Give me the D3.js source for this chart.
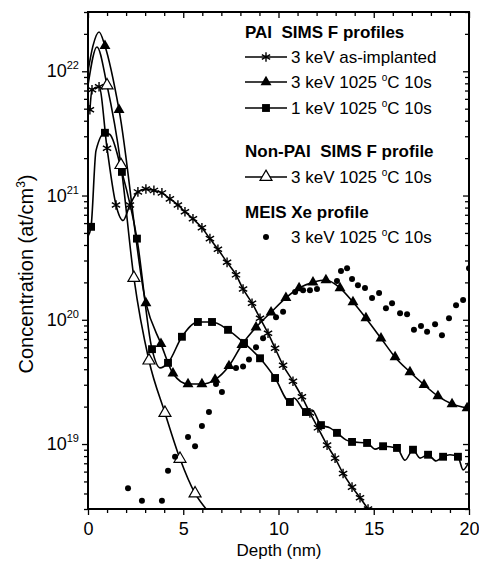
<!DOCTYPE html>
<html>
<head>
<meta charset="utf-8">
<script src="https://cdn.jsdelivr.net/npm/d3@7"></script>
<style>
  body { margin: 0; background: #fff; }
  svg { display: block; font-family: "Liberation Sans", Arial, sans-serif; }
</style>
</head>
<body>
<div id="chart"></div>
<script>
// axis values
const depthTicks = [0, 5, 10, 15, 20];
const concTicks = [1e19, 1e20, 1e21, 1e22];

// PAI SIMS F, 3 keV as-implanted (asterisks)
const asImplantedMarks = [
  [0.10, 4.9e21], [0.21, 7.1e21], [0.58, 7.5e21], [1.00, 2.4e21], [1.47, 8.4e20],
  [2.20, 8.4e20], [2.62, 1.07e21], [3.04, 1.13e21], [3.46, 1.1e21], [3.88, 1.05e21],
  [4.30, 9.4e20], [4.72, 8.4e20], [5.09, 7.4e20], [5.51, 6.5e20], [5.98, 5.5e20],
  [6.40, 4.5e20], [6.82, 3.7e20], [7.30, 2.9e20], [7.77, 2.3e20], [8.14, 1.77e20],
  [8.61, 1.36e20], [9.03, 1.03e20], [9.45, 7.8e19], [9.82, 5.9e19], [10.24, 4.3e19],
  [10.76, 3.2e19], [11.23, 2.4e19], [11.65, 1.78e19], [12.07, 1.35e19], [12.55, 9.8e18],
  [12.97, 7.7e18], [13.39, 5.8e18], [13.86, 4.5e18], [14.28, 3.7e18], [14.70, 3.0e18]
];
const asImplantedExtra = [[1.84, 6.3e20]];

// PAI SIMS F, 3 keV 1025 C 10s (filled triangles)
const pai3Marks = [
  [0.89, 1.6e22], [1.63, 4.9e21], [3.04, 1.36e20], [3.83, 6.4e19], [4.46, 3.7e19],
  [5.25, 3.04e19], [5.98, 3.04e19], [6.67, 3.3e19], [7.40, 4.25e19], [8.08, 6.3e19],
  [8.82, 8.7e19], [9.61, 1.15e20], [10.39, 1.5e20], [11.08, 1.8e20], [11.81, 2.0e20],
  [12.49, 2.09e20], [13.23, 1.8e20], [13.91, 1.39e20], [14.59, 1.03e20], [15.38, 7.1e19],
  [16.12, 5.0e19], [16.90, 3.8e19], [17.64, 3.0e19], [18.37, 2.43e19], [19.11, 2.1e19],
  [19.90, 1.95e19]
];
const pai3Extra = [[0.0, 1.0e22], [0.26, 1.6e22], [0.58, 2.07e22]];

// PAI SIMS F, 1 keV 1025 C 10s (filled squares)
const pai1Marks = [
  [0.16, 5.6e20], [0.89, 3.2e21], [1.78, 1.55e21], [2.57, 4.5e20], [3.36, 5.8e19],
  [4.20, 4.5e19], [4.93, 7.3e19], [5.77, 9.6e19], [6.51, 9.6e19], [7.35, 8.3e19],
  [8.19, 6.5e19], [9.03, 4.9e19], [9.82, 3.4e19], [10.60, 2.18e19], [11.44, 1.81e19],
  [12.23, 1.42e19], [13.07, 1.23e19], [13.86, 1.04e19], [14.65, 1.02e19], [15.49, 9.6e18],
  [16.22, 9.3e18], [17.06, 9.0e18], [17.85, 8.2e18], [18.64, 7.9e18], [19.42, 7.9e18]
];
const pai1Extra = [
  [0.0, 4.7e20], [0.42, 2.3e21], [1.15, 3.1e21], [3.78, 4.1e19], [10.81, 2.35e19],
  [11.76, 1.88e19], [12.70, 1.35e19], [13.54, 1.08e19], [15.07, 9.1e18], [16.64, 7.4e18],
  [17.43, 7.7e18], [18.27, 7.3e18], [19.00, 8.2e18], [19.69, 6.2e18], [20.0, 7.2e18]
];

// Non-PAI SIMS F, 3 keV 1025 C 10s (open triangles)
const nonPaiMarks = [
  [1.00, 7.7e21], [1.73, 1.76e21], [2.41, 2.17e20], [3.20, 4.7e19], [4.04, 1.78e19],
  [4.83, 7.6e18], [5.62, 4.0e18]
];
const nonPaiExtra = [[0.0, 7.7e21], [0.47, 1.57e22], [6.2, 3.0e18]];

// MEIS Xe profile, 3 keV 1025 C 10s (dots)
const meisXe = [
  [2.10, 4.4e18], [2.83, 3.5e18], [3.88, 3.5e18], [4.20, 6.1e18], [4.57, 7.9e18],
  [5.25, 1.14e19], [5.62, 9.6e18], [5.98, 1.40e19], [6.35, 1.81e19], [6.72, 3.04e19],
  [7.03, 2.62e19], [7.40, 4.25e19], [7.77, 4.1e19], [8.14, 4.2e19], [8.45, 4.8e19],
  [8.82, 6.0e19], [9.19, 7.1e19], [9.87, 1.05e20], [10.24, 1.16e20], [10.87, 1.67e20],
  [11.29, 1.73e20], [11.65, 1.73e20], [12.02, 1.77e20], [13.07, 2.05e20], [13.28, 2.47e20],
  [13.60, 2.6e20], [13.86, 2.13e20], [14.17, 1.9e20], [14.54, 1.8e20], [14.91, 1.5e20],
  [15.28, 1.64e20], [15.64, 1.24e20], [15.96, 1.36e20], [16.38, 1.13e20], [16.75, 1.11e20],
  [17.11, 8.3e19], [17.48, 8.9e19], [17.80, 8.0e19], [18.22, 9.2e19], [18.58, 7.5e19],
  [18.95, 1.03e20], [19.32, 1.31e20], [19.69, 1.44e20], [20.0, 2.6e20]
];

const width = 479;
const height = 562;
const plotL = 88, plotR = 469, plotT = 12, plotB = 509;

const x = d3.scaleLinear().domain([0, 20]).range([plotL, plotR]);
const y = d3.scaleLog().domain([3e18, 3e22]).range([plotB, plotT]);

const svg = d3.select("#chart")
  .append("svg")
  .attr("width", width)
  .attr("height", height);

svg.append("rect").attr("width", width).attr("height", height).attr("fill", "#fff");

svg.append("defs").append("clipPath").attr("id", "plot")
  .append("rect")
  .attr("x", plotL).attr("y", plotT)
  .attr("width", plotR - plotL).attr("height", plotB - plotT);

// ticks
const minorX = x.ticks(20).filter(d => !depthTicks.includes(d));
const minorY = y.ticks().filter(d => !concTicks.includes(d));

const drawAxis = (axis, tx, ty) => {
  const g = svg.append("g").attr("transform", `translate(${tx},${ty})`).call(axis);
  g.select(".domain").remove();
  g.selectAll("line").attr("stroke", "#000").attr("stroke-width", 1.3);
  return g;
};

drawAxis(d3.axisBottom(x).tickValues(minorX).tickSize(4).tickFormat(""), 0, plotB);
const xg = drawAxis(d3.axisBottom(x).tickValues(depthTicks).tickSize(6).tickPadding(7), 0, plotB);
xg.selectAll("text").attr("font-size", 18).attr("fill", "#000")
  .attr("font-family", "Liberation Sans, Arial, sans-serif");

drawAxis(d3.axisTop(x).tickValues(minorX).tickSize(-4).tickFormat(""), 0, plotT);
drawAxis(d3.axisTop(x).tickValues(depthTicks).tickSize(-6).tickFormat(""), 0, plotT);

drawAxis(d3.axisLeft(y).tickValues(minorY).tickSize(4).tickFormat(""), plotL, 0);
drawAxis(d3.axisLeft(y).tickValues(concTicks).tickSize(6).tickFormat(""), plotL, 0);
drawAxis(d3.axisRight(y).tickValues(minorY).tickSize(-4).tickFormat(""), plotR, 0);
drawAxis(d3.axisRight(y).tickValues(concTicks).tickSize(-6).tickFormat(""), plotR, 0);

// y tick labels as 10^n
const ylab = svg.append("g").selectAll("text")
  .data(concTicks)
  .enter()
  .append("text")
  .attr("x", plotL - 9)
  .attr("y", d => y(d) + 6)
  .attr("text-anchor", "end")
  .attr("font-size", 18);
ylab.append("tspan").text("10");
ylab.append("tspan").attr("font-size", 11).attr("dy", -8).text(d => Math.round(Math.log10(d)));

// frame
svg.append("rect")
  .attr("x", plotL).attr("y", plotT)
  .attr("width", plotR - plotL).attr("height", plotB - plotT)
  .attr("fill", "none").attr("stroke", "#000").attr("stroke-width", 2);

// axis titles
svg.append("text")
  .attr("x", 279)
  .attr("y", 556)
  .attr("text-anchor", "middle")
  .attr("font-size", 17)
  .text("Depth (nm)");

const yt = svg.append("text")
  .attr("transform", "translate(33,274) rotate(-90)")
  .attr("text-anchor", "middle")
  .attr("font-size", 20);
yt.append("tspan").text("Concentration (at/cm");
yt.append("tspan").attr("font-size", 12).attr("dy", -8).text("3");
yt.append("tspan").attr("dy", 8).text(")");

// series
const byDepth = (a, b) => a[0] - b[0];
const line = d3.line().x(d => x(d[0])).y(d => y(d[1])).curve(d3.curveMonotoneX);
const plot = svg.append("g").attr("clip-path", "url(#plot)");

const series = [
  { marks: asImplantedMarks, extra: asImplantedExtra, marker: "star" },
  { marks: pai1Marks, extra: pai1Extra, marker: "square" },
  { marks: nonPaiMarks, extra: nonPaiExtra, marker: "openTri" },
  { marks: pai3Marks, extra: pai3Extra, marker: "tri" }
];

const starPath = r => {
  const a = r * Math.cos(Math.PI / 6), b = r * Math.sin(Math.PI / 6);
  return `M0,${-r}L0,${r}M${-a},${-b}L${a},${b}M${-a},${b}L${a},${-b}`;
};

const drawMarker = (g, kind) => {
  if (kind === "star") {
    g.append("path").attr("d", starPath(4.8)).attr("stroke", "#000").attr("stroke-width", 1.4).attr("fill", "none");
  } else if (kind === "square") {
    g.append("path").attr("d", d3.symbol(d3.symbolSquare, 62)()).attr("fill", "#000");
  } else if (kind === "tri") {
    g.append("path").attr("d", d3.symbol(d3.symbolTriangle, 52)()).attr("fill", "#000");
  } else if (kind === "openTri") {
    g.append("path").attr("d", d3.symbol(d3.symbolTriangle, 62)())
      .attr("fill", "#fff").attr("stroke", "#000").attr("stroke-width", 1.2);
  } else if (kind === "dot") {
    g.append("circle").attr("r", 3).attr("fill", "#000");
  }
};

series.forEach(s => {
  const pts = s.marks.concat(s.extra).sort(byDepth);
  plot.append("path")
    .datum(pts)
    .attr("d", line)
    .attr("fill", "none")
    .attr("stroke", "#000")
    .attr("stroke-width", 1.6);
});

series.forEach(s => {
  plot.selectAll(null)
    .data(s.marks)
    .enter()
    .append("g")
    .attr("transform", d => `translate(${x(d[0])},${y(d[1])})`)
    .each(function () { drawMarker(d3.select(this), s.marker); });
});

plot.selectAll(null)
  .data(meisXe)
  .enter()
  .append("circle")
  .attr("cx", d => x(d[0]))
  .attr("cy", d => y(d[1]))
  .attr("r", 3)
  .attr("fill", "#000");

// legend
const legend = svg.append("g").attr("font-size", 17);

const header = (text, yy) => legend.append("text")
  .attr("x", 245).attr("y", yy)
  .attr("font-weight", "bold")
  .text(text);

const entry = (label, kind, yy, withLine) => {
  if (withLine) {
    legend.append("line")
      .attr("x1", 245).attr("x2", 287)
      .attr("y1", yy - 6).attr("y2", yy - 6)
      .attr("stroke", "#000").attr("stroke-width", 1.6);
  }
  const g = legend.append("g").attr("transform", `translate(266,${yy - 6})`);
  drawMarker(g, kind);
  const t = legend.append("text").attr("x", 291).attr("y", yy);
  if (label.includes("°")) {
    const parts = label.split("°");
    t.append("tspan").text(parts[0]);
    t.append("tspan").attr("font-size", 10).attr("dy", -7).text("o");
    t.append("tspan").attr("dy", 7).text(parts[1]);
  } else {
    t.text(label);
  }
};

header("PAI\u00a0 SIMS F profiles", 38);
entry("3 keV as-implanted", "star", 63, true);
entry("3 keV 1025 °C 10s", "tri", 88, true);
entry("1 keV 1025 °C 10s", "square", 114, true);
header("Non-PAI\u00a0 SIMS F profile", 157);
entry("3 keV 1025 °C 10s", "openTri", 183, true);
header("MEIS Xe profile", 218);
entry("3 keV 1025 °C 10s", "dot", 243, false);
</script>
</body>
</html>
